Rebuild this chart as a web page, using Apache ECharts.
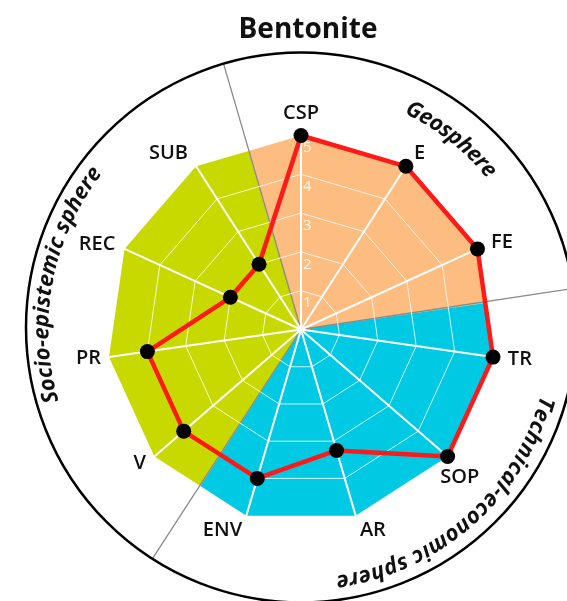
<!DOCTYPE html>
<html><head><meta charset="utf-8">
<script src="https://cdn.jsdelivr.net/npm/echarts@6/dist/echarts.min.js"></script>
<style>html,body{margin:0;padding:0;background:#fff}#c{width:567px;height:601px}</style>
</head><body><div id="c"></div>
<script>
// ---- data ----
const chartTitle = 'Bentonite';
const indicators = ['CSP', 'E', 'FE', 'TR', 'SOP', 'AR', 'ENV', 'V', 'PR', 'REC', 'SUB'];
const scores = [5, 5, 5, 5, 5, 3.25, 4, 4, 4, 2, 2];
const sphereNames = ['Geosphere', 'Technical-economic sphere', 'Socio-epistemic sphere'];
const sphereOf = [0, 0, 0, 1, 1, 1, 1, 2, 2, 2, 2];
const axisMin = 0, axisMax = 5;

// ---- layout / style ----
const CX = 301, CY = 329.5, R = 194, RING_R = 275, NAME_GAP = 15;
const nameGapOverride = {CSP: 12, PR: 8, REC: 10, V: 11, SOP: 16};
const sphereColors = ['#FDBD80', '#00C9E3', '#C8D900'];
// first / last character centre angles (degrees clockwise from top) and radius
const sphereTextFrom = [27.3, 106.8, 254.9];
const sphereTextTo = [49.6, 170.6, 306.8];
const sphereTextR = [246, 255, 259];
const N = indicators.length;
const STEP = 360 / N;

const mctx = document.createElement('canvas').getContext('2d');
function measure(t, font) { mctx.font = font; return mctx.measureText(t).width; }

// ECharts lays indicators counter-clockwise; slot j holds indicator k
const slotToK = j => (N - j) % N;
const slots = indicators.map((_, j) => slotToK(j));

const indicatorOpts = slots.map(k => {
  const nm = indicators[k];
  const o = { name: nm, min: axisMin, max: axisMax };
  if (nameGapOverride[nm] != null) o.nameGap = nameGapOverride[nm];
  if (k === 0) o.axisLabel = {
    show: true, showMinLabel: false, color: 'rgba(255,255,255,0.9)',
    fontSize: 15, fontFamily: 'Open Sans', align: 'left', verticalAlign: 'top',
    margin: -2, padding: [5, 0, 0, 0]
  };
  if (nm === 'SOP') o.nameTextStyle = {align: 'center', verticalAlign: 'top'};
  return o;
});

// background radar: twice as many spokes, to reach edge midpoints
const M = 2 * N;
const edgeMid = axisMax * Math.cos(Math.PI / N);
const halfSlots = Array.from({length: M}, (_, j) => (M - j) % M);
function sphereValues(s) {
  return halfSlots.map(h => {
    if (h % 2 === 0) return sphereOf[h / 2] === s ? axisMax : 0;
    const k = (h - 1) / 2;
    return (sphereOf[k] === s || sphereOf[(k + 1) % N] === s) ? edgeMid : 0;
  });
}

// graphics: outer circle, sphere boundary lines, curved sphere names
const graphics = [{
  type: 'circle', shape: {cx: CX, cy: CY - 2, r: RING_R}, z: 8, silent: true,
  style: {fill: 'none', stroke: '#000', lineWidth: 2.5}
}];
for (let k = 0; k < N; k++) {
  if (sphereOf[k] !== sphereOf[(k + 1) % N]) {
    const th = (k + 0.5) * STEP * Math.PI / 180;
    graphics.push({
      type: 'line', z: 2, silent: true,
      shape: {x1: CX, y1: CY, x2: CX + RING_R * Math.sin(th), y2: CY - 2 - RING_R * Math.cos(th)},
      style: {stroke: '#8a8a8a', lineWidth: 1.3}
    });
  }
}
const arcFontSize = 22;
const arcFont = 'italic bold ' + arcFontSize + 'px "Open Sans"';
sphereNames.forEach((str, s) => {
  const chars = [...str];
  const widths = chars.map(ch => measure(ch, arcFont));
  const r = sphereTextR[s];
  const natural = widths.reduce((a, b) => a + b, 0) - widths[0] / 2 - widths[widths.length - 1] / 2;
  const target = (sphereTextTo[s] - sphereTextFrom[s]) * Math.PI / 180 * r;
  const extra = (target - natural) / (chars.length - 1);
  let pos = 0;
  chars.forEach((ch, i) => {
    if (i > 0) pos += widths[i - 1] / 2 + widths[i] / 2 + extra;
    const th = (sphereTextFrom[s] + pos / r * 180 / Math.PI) * Math.PI / 180;
    graphics.push({
      type: 'text', z: 10, silent: true,
      x: CX + r * Math.sin(th), y: CY - r * Math.cos(th), rotation: -th,
      style: {
        text: ch, fontSize: arcFontSize, fontStyle: 'italic', fontWeight: 'bold',
        fontFamily: 'Open Sans', fill: '#111', align: 'center', verticalAlign: 'middle',
        textAlign: 'center', textVerticalAlign: 'middle'
      }
    });
  });
});

const chart = echarts.init(document.getElementById('c'), null, {renderer: 'canvas'});
chart.setOption({
  animation: false,
  backgroundColor: '#fff',
  title: {
    text: chartTitle, left: 303, top: 11, textAlign: 'center',
    textStyle: {fontFamily: 'Open Sans', fontWeight: 'bold', fontSize: 28, color: '#111'}
  },
  radar: [{
    center: [CX, CY], radius: R, shape: 'polygon', splitNumber: 5, z: 3,
    indicator: indicatorOpts,
    nameGap: NAME_GAP,
    axisName: {color: '#111', fontSize: 20, fontWeight: 600, fontFamily: 'Open Sans'},
    axisLine: {lineStyle: {color: '#fff', width: 2}},
    axisTick: {show: false},
    axisLabel: {show: false},
    splitLine: {lineStyle: {color: ['rgba(255,255,255,0.8)', 'rgba(255,255,255,0.8)', 'rgba(255,255,255,0.8)',
      'rgba(255,255,255,0.8)', 'rgba(255,255,255,0.8)', 'rgba(255,255,255,0)'], width: 1}},
    splitArea: {show: false}
  }, {
    center: [CX, CY], radius: R, shape: 'polygon', z: 0, silent: true,
    indicator: halfSlots.map(() => ({name: '', min: axisMin, max: axisMax})),
    axisName: {show: false},
    axisLine: {show: false}, axisTick: {show: false}, axisLabel: {show: false},
    splitLine: {show: false}, splitArea: {show: false}
  }],
  graphic: graphics,
  series: sphereNames.map((nm, s) => ({
    type: 'radar', radarIndex: 1, z: 1, silent: true, symbol: 'none', name: nm,
    lineStyle: {width: 0, opacity: 0},
    areaStyle: {color: sphereColors[s], opacity: 1},
    data: [{value: sphereValues(s)}]
  })).concat([{
    type: 'radar', radarIndex: 0, z: 5, name: chartTitle,
    symbol: 'circle', symbolSize: 15,
    itemStyle: {color: '#000'},
    lineStyle: {color: '#FF1A1A', width: 4.5},
    data: [{value: slots.map(k => scores[k])}]
  }])
});
</script>
</body></html>
